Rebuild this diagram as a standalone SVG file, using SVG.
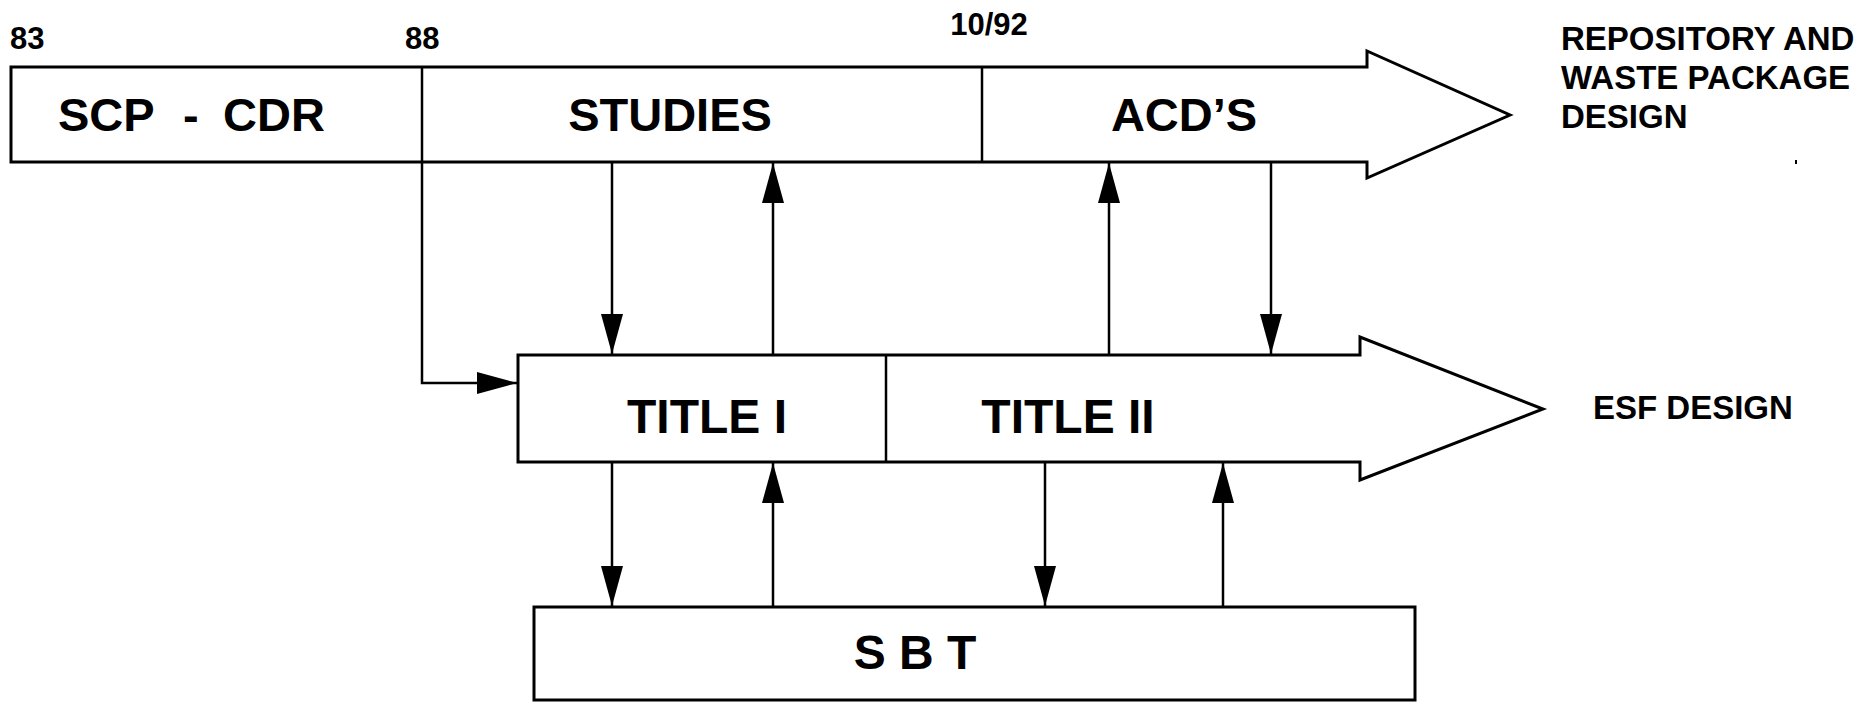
<svg xmlns="http://www.w3.org/2000/svg" width="1872" height="702" viewBox="0 0 1872 702">
  <style>
    text { font-family: "Liberation Sans", Arial, sans-serif; font-weight: bold; fill: #000; }
    .shape { fill: #fff; stroke: #000; stroke-width: 3; stroke-linejoin: miter; }
    .div { stroke: #000; stroke-width: 2.5; }
    .conn { fill: none; stroke: #000; stroke-width: 2.5; }
    .big { font-size: 47px; text-anchor: middle; }
    .left { text-anchor: start; }
    .mid { font-size: 48px; text-anchor: middle; }
    .num { font-size: 31px; }
    .side { font-size: 33px; }
  </style>
  <defs>
    <marker id="head" markerUnits="userSpaceOnUse" markerWidth="40" markerHeight="22" refX="40" refY="11" orient="auto" viewBox="0 0 40 22">
      <path d="M0,0 L40,11 L0,22 Z" fill="#000"/>
    </marker>
  </defs>

  <rect width="1872" height="702" fill="#fff"/>

  <!-- timeline markers -->
  <g id="dates">
    <text class="num" x="10" y="49">83</text>
    <text class="num" x="405" y="49">88</text>
    <text class="num" x="989" y="35" text-anchor="middle">10/92</text>
  </g>

  <!-- repository and waste package design band -->
  <g id="repository-band">
    <path class="shape" d="M11,67 H1367 V51 L1510,115 L1367,178 V162 H11 Z"/>
    <line class="div" x1="422" y1="67" x2="422" y2="162"/>
    <line class="div" x1="982" y1="67" x2="982" y2="162"/>
    <text class="big left" y="131"><tspan x="58">SCP</tspan><tspan x="183">-</tspan><tspan x="223">CDR</tspan></text>
    <text class="big" x="670" y="131">STUDIES</text>
    <text class="big" x="1184" y="131">ACD’S</text>
    <text class="side" x="1561" y="50">REPOSITORY AND</text>
    <text class="side" x="1561" y="89">WASTE PACKAGE</text>
    <text class="side" x="1561" y="128">DESIGN</text>
  </g>

  <!-- ESF design band -->
  <g id="esf-band">
    <path class="shape" d="M518,355 H1360 V337 L1543,409 L1360,480 V462 H518 Z"/>
    <line class="div" x1="886" y1="355" x2="886" y2="462"/>
    <text class="mid" x="707" y="433">TITLE I</text>
    <text class="mid" x="1068" y="433">TITLE II</text>
    <text class="side" x="1593" y="419">ESF DESIGN</text>
  </g>

  <!-- SBT box -->
  <g id="sbt">
    <rect class="shape" x="534" y="607" width="881" height="93"/>
    <text class="mid" x="915" y="669">S B T</text>
  </g>

  <!-- flows between bands -->
  <g id="connectors">
    <path class="conn" d="M422,162 V383 H517" marker-end="url(#head)"/>
    <line class="conn" x1="612" y1="162" x2="612" y2="354" marker-end="url(#head)"/>
    <line class="conn" x1="773" y1="355" x2="773" y2="163" marker-end="url(#head)"/>
    <line class="conn" x1="1109" y1="355" x2="1109" y2="163" marker-end="url(#head)"/>
    <line class="conn" x1="1271" y1="162" x2="1271" y2="354" marker-end="url(#head)"/>
    <line class="conn" x1="612" y1="462" x2="612" y2="606" marker-end="url(#head)"/>
    <line class="conn" x1="773" y1="607" x2="773" y2="463" marker-end="url(#head)"/>
    <line class="conn" x1="1045" y1="462" x2="1045" y2="606" marker-end="url(#head)"/>
    <line class="conn" x1="1223" y1="607" x2="1223" y2="463" marker-end="url(#head)"/>
  </g>

  <rect x="1795" y="160" width="2" height="4" fill="#000"/>
</svg>
